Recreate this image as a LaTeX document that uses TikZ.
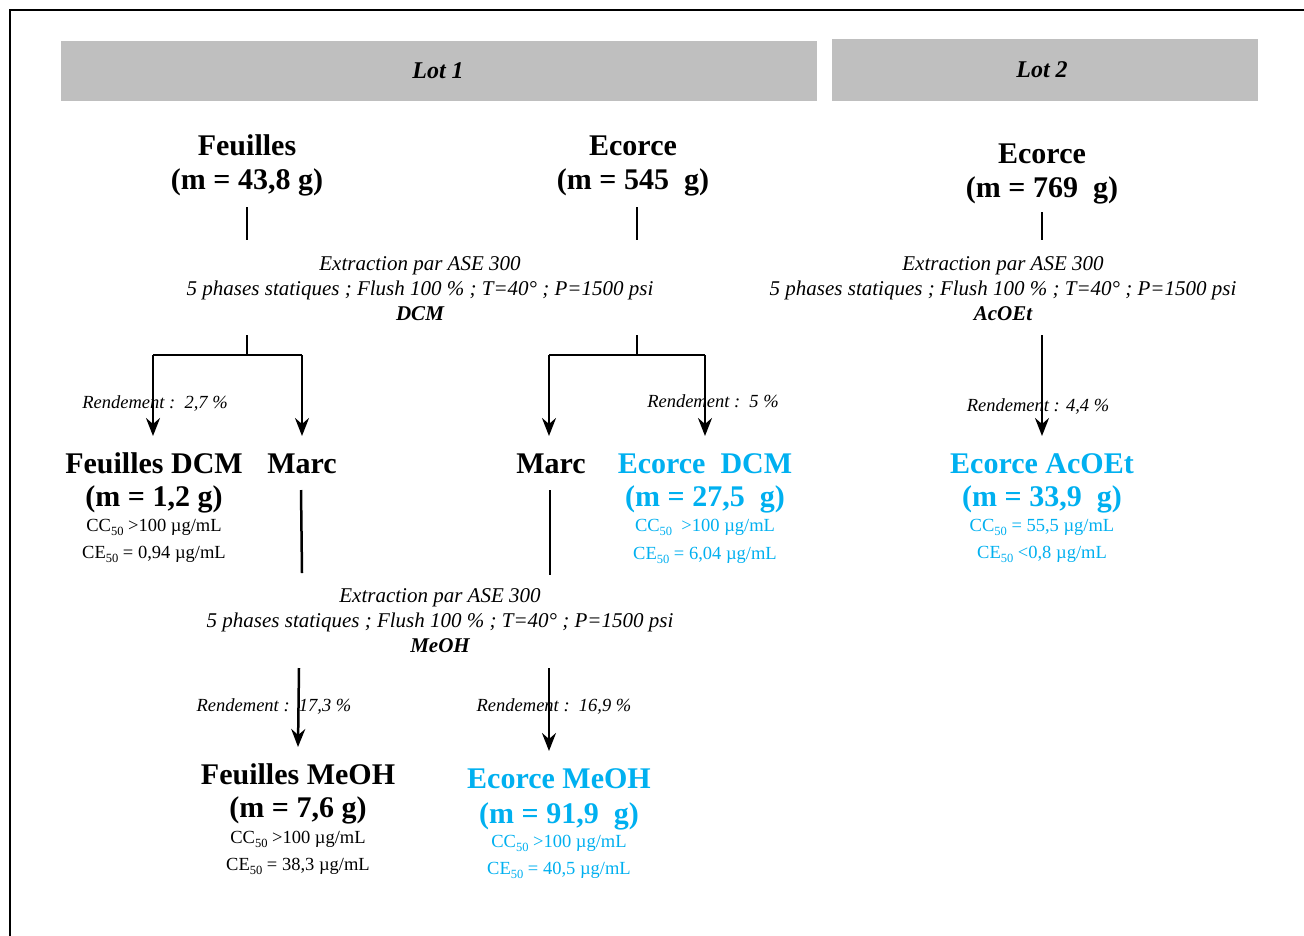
\documentclass[tikz,border=0pt]{standalone}
\usepackage{fontspec}
\setmainfont{Liberation Serif}
\usetikzlibrary{arrows.meta}
\definecolor{lotgray}{RGB}{191,191,191}
\definecolor{cyanblue}{RGB}{0,176,240}
\newcommand{\fifty}{\raisebox{-4.5pt}{\fontsize{12.5}{13}\selectfont 50}}
\tikzset{
  big/.style={font=\fontsize{30}{34}\selectfont\bfseries, anchor=base, inner sep=0pt},
  bigblue/.style={big, text=cyanblue},
  ext/.style={font=\fontsize{21}{24}\selectfont\itshape, anchor=base, inner sep=0pt},
  extb/.style={font=\fontsize{21}{24}\selectfont\bfseries\itshape, anchor=base, inner sep=0pt},
  small/.style={font=\fontsize{18.5}{20}\selectfont, anchor=base, inner sep=0pt},
  smallblue/.style={small, text=cyanblue},
  rend/.style={font=\fontsize{18.5}{20}\selectfont\itshape, anchor=base, inner sep=0pt},
  lothead/.style={fill=lotgray, draw=none},
  lotlabel/.style={font=\fontsize{24}{28}\selectfont\bfseries\itshape, inner sep=0pt},
  conn/.style={line width=2.5pt},
  arr/.style={line width=2.5pt, -{Stealth[length=18pt,width=14pt,inset=6pt]}},
  frameline/.style={line width=2.2pt}
}
\begin{document}
\begin{tikzpicture}[x=1pt,y=-1pt]
\useasboundingbox (0,0) rectangle (1304,935);
\fill[white] (0,0) rectangle (1304,935);
% frame (cut at right and bottom)
\coordinate (fTR) at (1310,10);
\coordinate (fTL) at (10,10);
\coordinate (fBL) at (10,940);
\draw[frameline] (fTR) -- (fTL) -- (fBL);

% headers
\node[lothead, minimum width=756pt, minimum height=60pt, inner sep=0pt] (lot1box) at (439,70.5) {};
\node[lothead, minimum width=426pt, minimum height=62pt, inner sep=0pt] (lot2box) at (1044.5,69.5) {};
\node[lotlabel] (lot1) at (438,71) {Lot 1};
\node[lotlabel] (lot2) at (1042,70) {Lot 2};

% ---------- Lot 1 : Feuilles ----------
\node[big] (feuil) at (247,155) {Feuilles};
\node[big] (feuilm) at (247,189) {(m = 43,8 g)};
% ---------- Lot 1 : Ecorce ----------
\node[big] (ecor) at (633,155) {Ecorce};
\node[big] (ecorm) at (633,189) {(m = 545\ \ g)};
% ---------- Lot 2 : Ecorce ----------
\node[big] (ecor2) at (1042,163) {Ecorce};
\node[big] (ecor2m) at (1042,197) {(m = 769\ \ g)};

% extraction texts
\node[ext] (ex1a) at (420,270) {Extraction par ASE 300};
\node[ext] (ex1b) at (420,295) {5 phases statiques ; Flush 100 \% ; T=40° ; P=1500 psi};
\node[extb] (ex1c) at (420,320) {DCM};
\node[ext] (ex2a) at (1003,270) {Extraction par ASE 300};
\node[ext] (ex2b) at (1003,295) {5 phases statiques ; Flush 100 \% ; T=40° ; P=1500 psi};
\node[extb] (ex2c) at (1003,320) {AcOEt};
\node[ext] (ex3a) at (440,602) {Extraction par ASE 300};
\node[ext] (ex3b) at (440,627) {5 phases statiques ; Flush 100 \% ; T=40° ; P=1500 psi};
\node[extb] (ex3c) at (440,652) {MeOH};

% rendements
\node[rend] (r1) at (155,408) {Rendement :\ \ 2,7 \%};
\node[rend] (r2) at (713,407) {Rendement :\ \ 5 \%};
\node[rend] (r3) at (1038,411) {Rendement : 4,4 \%};
\node[rend] (r4) at (274,711) {Rendement :\ \ 17,3 \%};
\node[rend] (r5) at (554,711) {Rendement :\ \ 16,9 \%};

% products level 1
\node[big] (fdcm) at (154,473) {Feuilles DCM};
\node[big] (fdcmm) at (154,506) {(m = 1,2 g)};
\node[small] (fdcmcc) at (154,531) {CC\fifty{} >100 µg/mL};
\node[small] (fdcmce) at (154,558) {CE\fifty{} = 0,94 µg/mL};
\node[big] (marc1) at (302,473) {Marc};
\node[big] (marc2) at (551,473) {Marc};
\node[bigblue] (edcm) at (705,473) {Ecorce\ \ DCM};
\node[bigblue] (edcmm) at (705,506) {(m = 27,5\ \ g)};
\node[smallblue] (edcmcc) at (705,531) {CC\fifty\ \ >100 µg/mL};
\node[smallblue] (edcmce) at (705,559) {CE\fifty{} = 6,04 µg/mL};
\node[bigblue] (eac) at (1042,473) {Ecorce AcOEt};
\node[bigblue] (eacm) at (1042,506) {(m = 33,9\ \ g)};
\node[smallblue] (eaccc) at (1042,531) {CC\fifty{} = 55,5 µg/mL};
\node[smallblue] (eacce) at (1042,558) {CE\fifty{} <0,8 µg/mL};

% products level 2
\node[big] (fme) at (298,784) {Feuilles MeOH};
\node[big] (fmem) at (298,817) {(m = 7,6 g)};
\node[small] (fmecc) at (298,843) {CC\fifty{} >100 µg/mL};
\node[small] (fmece) at (298,870) {CE\fifty{} = 38,3 µg/mL};
\node[bigblue] (eme) at (559,788) {Ecorce MeOH};
\node[bigblue] (emem) at (559,823) {(m = 91,9\ \ g)};
\node[smallblue] (emecc) at (559,847) {CC\fifty{} >100 µg/mL};
\node[smallblue] (emece) at (559,874) {CE\fifty{} = 40,5 µg/mL};

% ---------- connectors ----------
% Feuilles
\coordinate (fa) at (247,207); \coordinate (fb) at (247,240);
\coordinate (fc) at (247,335); \coordinate (fd) at (247,355);
\coordinate (fl) at (153,355); \coordinate (fr) at (302,355);
\coordinate (flt) at (153,436); \coordinate (frt) at (302,436);
\draw[conn] (fa) -- (fb);
\draw[conn] (fc) -- (fd);
\draw[conn] (fl) -- (fr);
\draw[arr] (fl) -- (flt);
\draw[arr] (fr) -- (frt);
% Ecorce lot 1
\coordinate (ea) at (637,207); \coordinate (eb) at (637,240);
\coordinate (ec) at (637,335); \coordinate (ed) at (637,355);
\coordinate (el) at (549,355); \coordinate (er) at (705,355);
\coordinate (elt) at (549,436); \coordinate (ert) at (705,436);
\draw[conn] (ea) -- (eb);
\draw[conn] (ec) -- (ed);
\draw[conn] (el) -- (er);
\draw[arr] (el) -- (elt);
\draw[arr] (er) -- (ert);
% Ecorce lot 2
\coordinate (ga) at (1042,212); \coordinate (gb) at (1042,240);
\coordinate (gc) at (1042,335); \coordinate (gt) at (1042,436);
\draw[conn] (ga) -- (gb);
\draw[arr] (gc) -- (gt);
% Marc lines
\coordinate (m1a) at (301,490); \coordinate (m1b) at (302,573);
\coordinate (m2a) at (550,490); \coordinate (m2b) at (550,575);
\draw[conn] (m1a) -- (m1b);
\draw[conn] (m2a) -- (m2b);
% MeOH arrows
\coordinate (n1a) at (299,668); \coordinate (n1t) at (298,747);
\coordinate (n2a) at (549,668); \coordinate (n2t) at (549,751);
\draw[arr] (n1a) -- (n1t);
\draw[arr] (n2a) -- (n2t);
\end{tikzpicture}
\end{document}
